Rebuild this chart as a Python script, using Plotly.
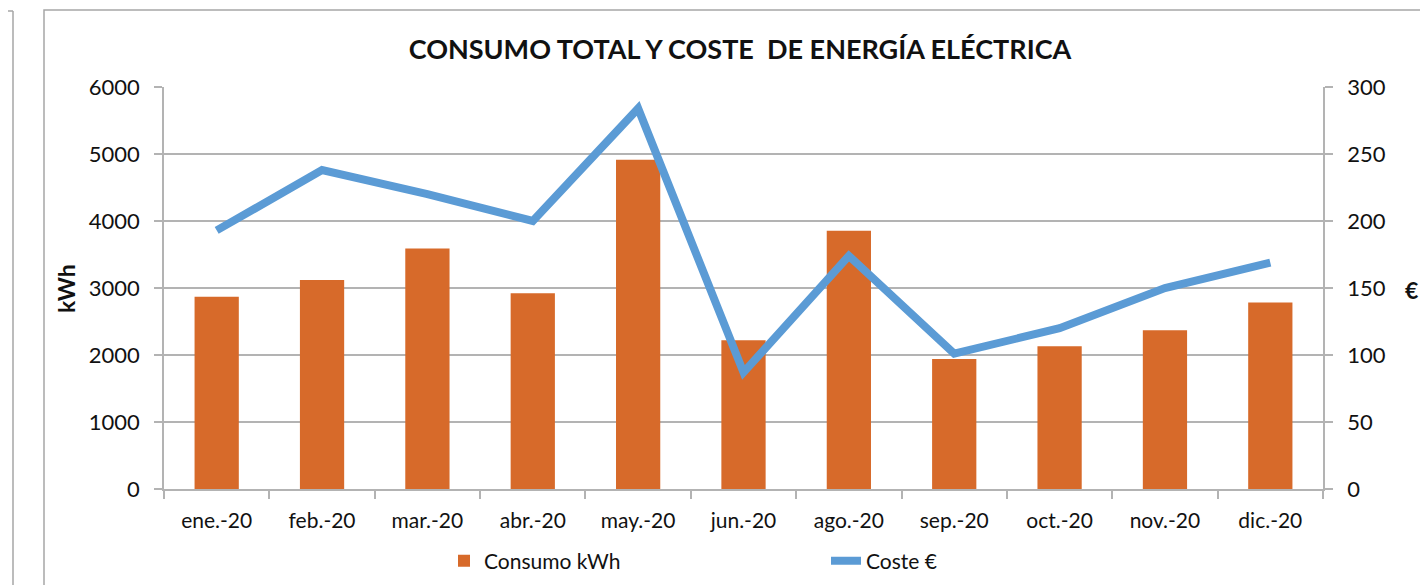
"""Consumo total y coste de energía eléctrica - barras + línea en doble eje"""
import plotly.graph_objects as go

# datos
MESES = ["ene.-20", "feb.-20", "mar.-20", "abr.-20", "may.-20", "jun.-20",
         "ago.-20", "sep.-20", "oct.-20", "nov.-20", "dic.-20"]
CONSUMO_KWH = [2870, 3120, 3590, 2920, 4915, 2220, 3855, 1940, 2130, 2370, 2785]
COSTE_EUR = [193, 238, 220, 200, 284, 87, 174, 101, 120, 150, 169]

FONT = "Lato, Open Sans, sans-serif"
TEXT = "#111111"
GRID = "#B3B3B3"
BAR = "#D76A2A"
LINE = "#5B9BD5"

W, H = 1428, 585
OFF = 8  # margen del <body> de la página
L, R, T, B = 164, 1323, 87, 489  # área de trazado (píxeles en pantalla)


def px(x):
    return (x - L) / (R - L)


def py(y):
    return (B - y) / (B - T)


fig = go.Figure()
fig.add_trace(go.Bar(
    x=MESES, y=CONSUMO_KWH, name="Consumo kWh",
    marker=dict(color=BAR, line=dict(width=0)),
    width=0.42,
))
fig.add_trace(go.Scatter(
    x=MESES, y=COSTE_EUR, name="Coste €", yaxis="y2",
    mode="lines", line=dict(color=LINE, width=8),
))

axis_common = dict(
    showline=True, linecolor=GRID, linewidth=1.5,
    ticks="outside", ticklen=8, tickcolor=GRID, tickwidth=1.5,
    ticklabelstandoff=10,
    tickfont=dict(family=FONT, size=22, color=TEXT),
)

fig.update_layout(
    width=W, height=H,
    margin=dict(l=L - OFF, r=W - (R - OFF), t=T - OFF, b=H - (B - OFF),
                autoexpand=False),
    plot_bgcolor="white", paper_bgcolor="white",
    font=dict(family=FONT, color=TEXT),
    title=dict(text="<b>CONSUMO TOTAL Y COSTE  DE ENERGÍA ELÉCTRICA</b>",
               x=(740 - OFF) / W, xanchor="center",
               y=1 - (50 - OFF) / H, yanchor="middle",
               font=dict(family=FONT, size=27, color=TEXT)),
    xaxis=dict(**{**axis_common, "ticklabelstandoff": 12,
                  "tickfont": dict(family=FONT, size=21, color=TEXT)},
               tickson="boundaries", showgrid=False),
    yaxis=dict(**axis_common, range=[0, 6000], dtick=1000,
               showgrid=True, gridcolor=GRID, gridwidth=1.5, zeroline=False),
    yaxis2=dict(**axis_common, range=[0, 300], dtick=50, overlaying="y",
                side="right", showgrid=False, zeroline=False),
    legend=dict(orientation="h", x=px(444), xanchor="left",
                y=py(561), yanchor="middle",
                entrywidth=337, entrywidthmode="pixels",
                font=dict(family=FONT, size=21, color=TEXT)),
    showlegend=True,
)

# títulos de ejes
fig.add_annotation(text="<b>kWh</b>", xref="paper", yref="paper",
                   x=px(66), y=py(288), xanchor="center", yanchor="middle",
                   textangle=-90, showarrow=False,
                   font=dict(family=FONT, size=23, color=TEXT))
fig.add_annotation(text="<b>€</b>", xref="paper", yref="paper",
                   x=px(1411), y=py(290), xanchor="center", yanchor="middle",
                   showarrow=False,
                   font=dict(family=FONT, size=23, color=TEXT))

# marco del gráfico y borde del gráfico vecino
frame = dict(color="#A6A6A6", width=1.5)
fig.add_shape(type="rect", xref="paper", yref="paper",
              x0=px(44), x1=px(1440), y0=py(600), y1=py(10), line=frame)
fig.add_shape(type="line", xref="paper", yref="paper",
              x0=px(13), x1=px(13), y0=py(11), y1=py(600), line=frame)
fig.add_shape(type="line", xref="paper", yref="paper",
              x0=px(-10), x1=px(13), y0=py(11), y1=py(11), line=frame)

fig.write_html("out.html")
